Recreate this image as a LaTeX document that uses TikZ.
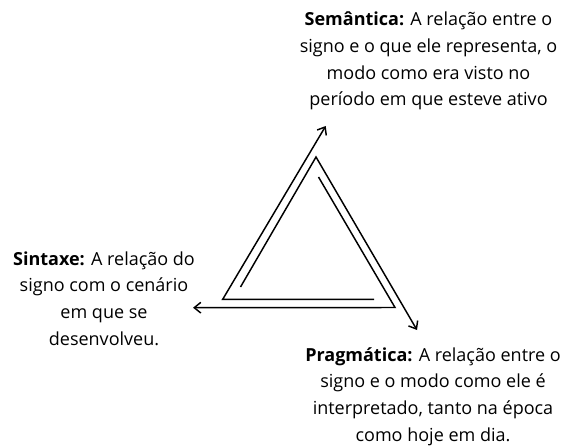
\documentclass[tikz,border=0pt]{standalone}
\usepackage{fontspec}
\setmainfont{Open Sans}
\usetikzlibrary{arrows.meta}
\tikzset{
  side/.style={line width=1.1pt, line join=miter},
  tip/.style={-{Straight Barb[length=5pt,width=8pt]}},
  note/.style={align=center, inner sep=0pt, font=\fontsize{13.5}{20}\selectfont},
}
\begin{document}
\begin{tikzpicture}[x=0.75pt,y=-0.75pt]
    \useasboundingbox (0,0) rectangle (573,445);
    % corners of the triangle
    \coordinate (bl) at (222.7,299.3);
    \coordinate (top) at (316,157);
    \coordinate (br) at (395,307.5);
    % free ends of the arms
    \coordinate (blEnd) at (374,299.3);
    \coordinate (blTip) at (325.7,126);
    \coordinate (topEnd) at (240.5,287);
    \coordinate (topTip) at (417,330);
    \coordinate (brEnd) at (318.5,177);
    \coordinate (brTip) at (193,307.7);

    \draw[side,tip] (blEnd) -- (bl) -- (blTip);
    \draw[side,tip] (topEnd) -- (top) -- (topTip);
    \draw[side,tip] (brEnd) -- (br) -- (brTip);

    \node[note] (semantica) at (428.5,61) {\textbf{Semântica:} A relação entre o\\signo e o que ele representa, o\\modo como era visto no\\período em que esteve ativo};
    \node[note] (sintaxe) at (104,298.5) {\textbf{Sintaxe:} A relação do\\signo com o cenário\\em que se\\desenvolveu.};
    \node[note] (pragmatica) at (433,396.5) {\textbf{Pragmática:} A relação entre o\\signo e o modo como ele é\\interpretado, tanto na época\\como hoje em dia.};
\end{tikzpicture}
\end{document}
